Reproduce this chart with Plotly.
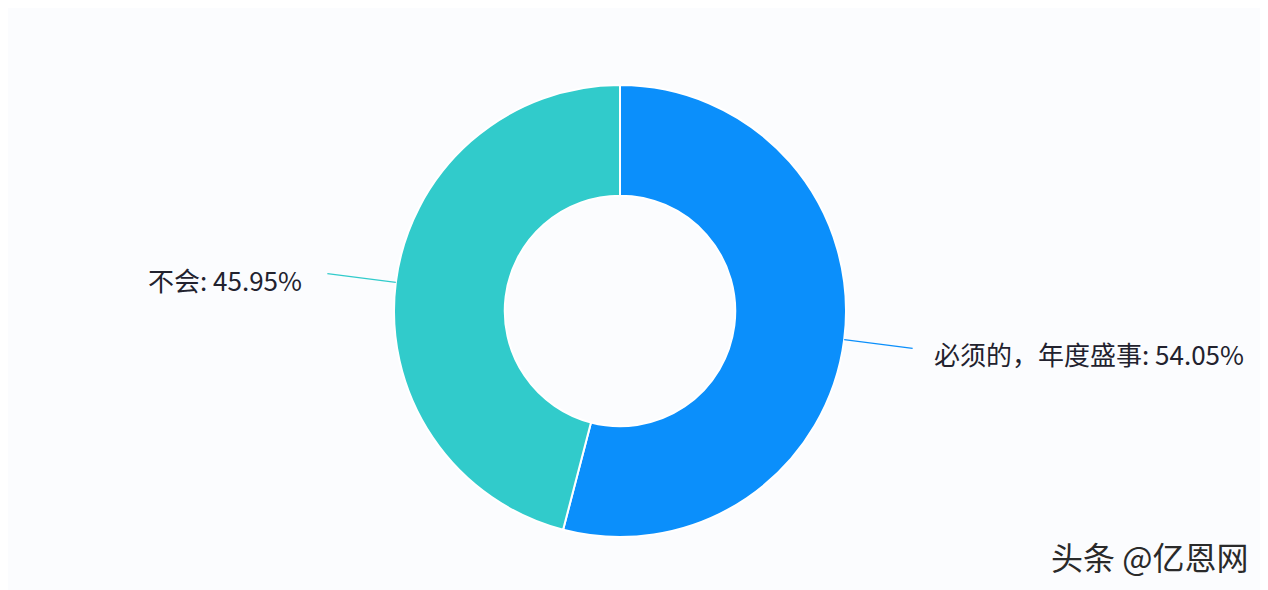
import math
import plotly.graph_objects as go

labels = ["必须的，年度盛事", "不会"]
values = [54.05, 45.95]
colors = ["#0b8ffb", "#31cbcb"]

W, H = 1268, 590
OFF = 8                       # page body margin
cx, cy, R = 620 - OFF, 311 - OFF, 226   # pie centre / radius in px (figure coords)
hole = 0.51
line_end = 295                # leader-line end radius in px

fig = go.Figure(go.Pie(
    labels=labels, values=values, sort=False, direction="clockwise", rotation=0,
    hole=hole, marker=dict(colors=colors, line=dict(color="white", width=2)),
    textinfo="none", hoverinfo="label+percent", showlegend=False,
    domain=dict(x=[(cx - R) / W, (cx + R) / W], y=[(H - cy - R) / H, (H - cy + R) / H]),
))

def px2paper(x, y):
    return x / W, (H - y) / H

total = sum(values)
cum = 0
shapes, annots = [], []
for lab, v, col in zip(labels, values, colors):
    mid = (cum + v / 2) / total * 2 * math.pi
    cum += v
    ang = math.pi / 2 - mid
    dx, dy = math.cos(ang), -math.sin(ang)
    x0, y0 = px2paper(cx + R * dx, cy + R * dy)
    x1, y1 = px2paper(cx + line_end * dx, cy + line_end * dy)
    shapes.append(dict(type="line", xref="paper", yref="paper", x0=x0, y0=y0, x1=x1, y1=y1,
                       line=dict(color=col, width=1.2)))
    right = dx > 0
    tx = cx + (line_end + (20 if right else 24)) * dx
    ty = cy + line_end * dy + (5 if right else 6)
    px, py = px2paper(tx, ty)
    annots.append(dict(x=px, y=py, xref="paper", yref="paper", showarrow=False,
                       text=f"{lab}: {v:.2f}%", xanchor="left" if right else "right",
                       yanchor="middle", font=dict(size=26, color="#22222e")))

annots.append(dict(x=(1250 - OFF) / W, y=(H - 556 + OFF) / H, xref="paper", yref="paper",
                   showarrow=False, text="头条 @亿恩网", xanchor="right", yanchor="middle",
                   font=dict(size=32, color="#2a2a2a")))

fig.update_layout(
    width=W, height=H, margin=dict(l=0, r=0, t=0, b=0),
    paper_bgcolor="#fbfcfe", plot_bgcolor="#fbfcfe",
    font=dict(family="Noto Sans CJK SC, Noto Sans, sans-serif"),
    shapes=shapes, annotations=annots,
)
fig.write_html("out.html")
